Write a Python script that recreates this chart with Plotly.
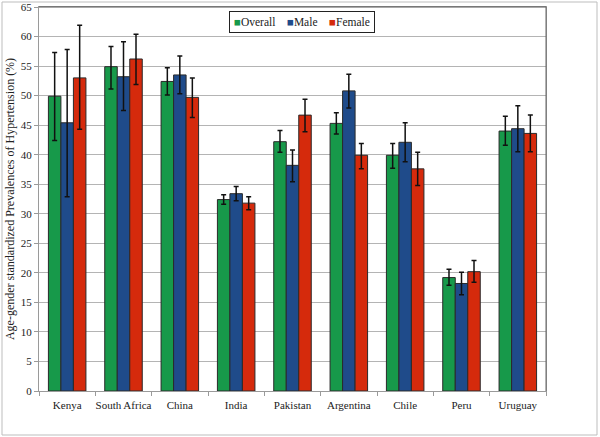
import plotly.graph_objects as go

countries = ["Kenya", "South Africa", "China", "India", "Pakistan", "Argentina", "Chile", "Peru", "Uruguay"]

overall = [49.9, 54.9, 52.4, 32.4, 42.2, 45.3, 39.9, 19.2, 44.0]
overall_hi = [57.3, 58.3, 54.7, 33.2, 44.1, 47.1, 41.9, 20.6, 46.5]
overall_lo = [42.4, 51.1, 50.1, 31.6, 40.4, 43.5, 37.7, 17.9, 41.6]

male = [45.4, 53.2, 53.5, 33.4, 38.2, 50.8, 42.1, 18.2, 44.4]
male_hi = [57.8, 59.1, 56.7, 34.6, 40.8, 53.6, 45.4, 20.1, 48.3]
male_lo = [32.9, 47.5, 50.3, 32.2, 35.4, 47.9, 38.8, 16.3, 40.5]

female = [53.0, 56.2, 49.7, 31.8, 46.7, 39.9, 37.6, 20.2, 43.6]
female_hi = [61.9, 60.4, 53.0, 32.9, 49.4, 41.9, 40.4, 22.1, 46.7]
female_lo = [44.3, 51.9, 46.3, 30.7, 43.9, 37.6, 34.8, 18.4, 40.5]

series_names = ["Overall", "Male", "Female"]
colors = ["#17994a", "#1f4b8a", "#d52a0c"]
series = list(zip(series_names, [overall, male, female], [overall_hi, male_hi, female_hi],
                  [overall_lo, male_lo, female_lo], colors))

SERIF = "Liberation Serif, Times New Roman, serif"

fig = go.Figure()
for name, vals, hi, lo, col in series:
    fig.add_trace(go.Bar(
        name=name, x=countries, y=vals,
        marker=dict(color=col, line=dict(color="#2a2a2a", width=1)),
        error_y=dict(type="data", symmetric=False,
                     array=[h - v for h, v in zip(hi, vals)],
                     arrayminus=[v - l for v, l in zip(vals, lo)],
                     color="#111111", thickness=1.5, width=2.5),
        showlegend=False,
    ))

L, R, T, B = 39, 546, 7, 391
W, H = 600, 437
pw, ph = R - L, B - T

legend_text = "&nbsp;&nbsp;&nbsp;&nbsp;".join(
    f"<span style='color:{c}'>■</span>{n}" for n, c in zip(series_names, colors)
)

fig.update_layout(
    width=W, height=H,
    margin=dict(l=L, r=W - R, t=T, b=H - B, autoexpand=False),
    barmode="group", bargap=0.334, bargroupgap=0,
    plot_bgcolor="white", paper_bgcolor="white",
    font=dict(family=SERIF, size=11, color="#222222"),
    xaxis=dict(showline=True, linecolor="#9a9a9a", linewidth=1, mirror=True,
               ticks="outside", tickson="boundaries", ticklen=4, tickcolor="#9a9a9a",
               tickfont=dict(family=SERIF, size=11), tickangle=0, showgrid=False,
               ticklabelstandoff=4, automargin=False),
    yaxis=dict(range=[0, 65], dtick=5, showline=True, linecolor="#9a9a9a", linewidth=1,
               mirror=True, ticks="outside", ticklen=4, tickcolor="#9a9a9a",
               gridcolor="#b4b4b4", gridwidth=1, zeroline=False,
               tickfont=dict(family=SERIF, size=11), automargin=False,
               title=dict(text="Age-gender standardized Prevalences of Hypertension (%)",
                          font=dict(family=SERIF, size=12), standoff=3)),
    annotations=[
        dict(text=legend_text, xref="paper", yref="paper",
             x=(302 - L) / pw, y=(B - 22) / ph, xanchor="center", yanchor="middle",
             showarrow=False, bordercolor="#222222", borderwidth=1, borderpad=4,
             bgcolor="white", font=dict(family=SERIF, size=11.5, color="#222222")),
    ],
    shapes=[
        dict(type="rect", xref="paper", yref="paper",
             x0=(2 - L) / pw, x1=(597 - L) / pw,
             y0=(B - 435) / ph, y1=(B - 2) / ph,
             line=dict(color="#bdbdbd", width=1), fillcolor="rgba(0,0,0,0)", layer="below"),
        dict(type="line", xref="paper", yref="paper", x0=0, x1=1, y0=1, y1=1,
             line=dict(color="#555555", width=1)),
        dict(type="line", xref="paper", yref="paper", x0=1, x1=1, y0=0, y1=1,
             line=dict(color="#666666", width=1)),
    ],
)

fig.write_html("out.html", config={"displayModeBar": False},
               post_script="document.body.style.margin='0';")
